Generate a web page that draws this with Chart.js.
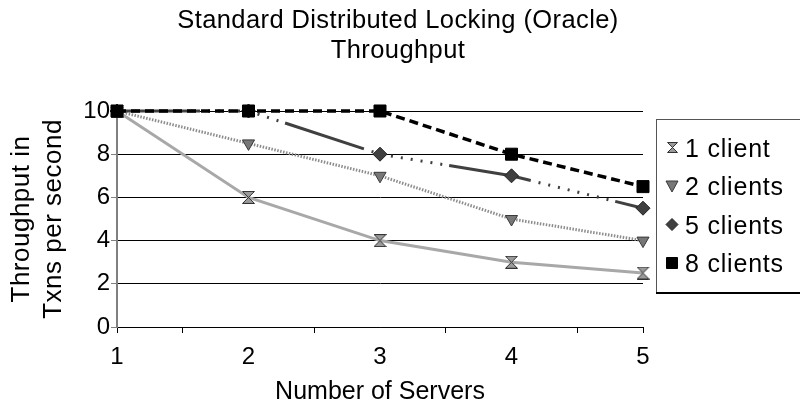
<!DOCTYPE html>
<html>
<head>
<meta charset="utf-8">
<script src="https://cdn.jsdelivr.net/npm/chart.js@4.4.1/dist/chart.umd.min.js"></script>
<style>
  html, body { margin: 0; padding: 0; background: #fff; }
  canvas { display: block; }
</style>
</head>
<body>
<canvas id="c" width="800" height="414"></canvas>
<script>
// Throughput (transactions per second) by number of servers
const servers = [1, 2, 3, 4, 5];
const oneClient = [10, 6, 4, 3, 2.5];
const twoClients = [10, 8.5, 7, 5, 4];
const fiveClients = [10, 10, 8, 7, 5.5];
const eightClients = [10, 10, 10, 8, 6.5];
const seriesNames = ['1 client', '2 clients', '5 clients', '8 clients'];
const yTicks = [0, 2, 4, 6, 8, 10];
const chartTitle = ['Standard Distributed Locking (Oracle)', 'Throughput'];
const xTitle = 'Number of Servers';
const yTitle = ['Throughput in', 'Txns per second'];

const FONT = "'Liberation Sans', Arial, sans-serif";

// hourglass marker (two triangles meeting at the centre)
function hourglass(size, fill, stroke) {
  const c = document.createElement('canvas');
  c.width = size; c.height = size;
  const g = c.getContext('2d');
  const a = 0.5, b = size - 0.5;
  g.beginPath();
  g.moveTo(a, a); g.lineTo(b, a); g.lineTo(a, b); g.lineTo(b, b); g.closePath();
  g.fillStyle = fill; g.fill();
  g.lineWidth = 1; g.strokeStyle = stroke; g.stroke();
  return c;
}
const hourglassMark = hourglass(13, '#9a9a9a', '#333');
const hourglassSmall = hourglass(11, '#9a9a9a', '#333');

const toPoints = vals => servers.map((x, i) => ({ x, y: vals[i] }));

const datasets = [
  {
    label: seriesNames[0], data: toPoints(oneClient), order: 3,
    borderColor: '#a8a8a8', borderWidth: 3,
    pointStyle: hourglassMark, pointRadius: 7
  },
  {
    label: seriesNames[1], data: toPoints(twoClients), order: 2,
    borderColor: '#8c8c8c', borderWidth: 3, borderDash: [1.5, 1.5],
    pointStyle: 'triangle', pointRotation: 180, pointRadius: 7,
    pointBackgroundColor: '#777', pointBorderColor: '#3a3a3a', pointBorderWidth: 1
  },
  {
    label: seriesNames[2], data: toPoints(fiveClients), order: 1,
    borderColor: '#404040', borderWidth: 3,
    borderDash: [83, 8, 2, 8, 2, 8, 2, 8, 2, 8, 2, 8, 2, 8, 2, 8, 2, 7],
    pointStyle: 'rectRot', pointRadius: 7,
    pointBackgroundColor: '#404040', pointBorderColor: '#222', pointBorderWidth: 1
  },
  {
    label: seriesNames[3], data: toPoints(eightClients), order: 0,
    borderColor: '#000', borderWidth: 3.5, borderDash: [9, 5],
    pointStyle: 'rect', pointRadius: 8.5,
    pointBackgroundColor: '#000', pointBorderColor: '#000', pointBorderWidth: 1
  }
];
datasets.forEach(d => { d.clip = false; d.fill = false; d.tension = 0; });

function setSpacing(ctx, px) {
  if ('letterSpacing' in ctx) ctx.letterSpacing = px + 'px';
}

function drawLegendMarker(ctx, ds, x, y) {
  ctx.save();
  ctx.fillStyle = ds.pointBackgroundColor || '#000';
  ctx.strokeStyle = ds.pointBorderColor || '#000';
  ctx.lineWidth = 1;
  ctx.beginPath();
  if (ds.pointStyle === 'triangle') {
    ctx.moveTo(x - 6, y - 5); ctx.lineTo(x + 6, y - 5); ctx.lineTo(x, y + 6);
  } else if (ds.pointStyle === 'rectRot') {
    ctx.moveTo(x, y - 6); ctx.lineTo(x + 6, y); ctx.lineTo(x, y + 6); ctx.lineTo(x - 6, y);
  } else if (ds.pointStyle === 'rect') {
    ctx.rect(x - 5.5, y - 5.5, 11, 11);
  } else {
    ctx.drawImage(hourglassSmall, Math.round(x - 5.5), Math.round(y - 5.5));
    ctx.restore();
    return;
  }
  ctx.closePath();
  ctx.fill();
  ctx.stroke();
  ctx.restore();
}

// chart title, y-axis title and the boxed legend
const annotations = {
  id: 'annotations',
  afterDraw(chart) {
    const ctx = chart.ctx;
    const area = chart.chartArea;
    ctx.save();
    ctx.fillStyle = '#000';
    ctx.textBaseline = 'alphabetic';

    // chart title
    ctx.font = '25.5px ' + FONT;
    setSpacing(ctx, 0.4);
    ctx.textAlign = 'center';
    ctx.fillText(chartTitle[0], 398, 28);
    ctx.fillText(chartTitle[1], 398, 58);

    // y-axis title, two rotated lines
    ctx.font = '26px ' + FONT;
    setSpacing(ctx, 0.5);
    const yMid = (area.top + area.bottom) / 2;
    [28.5, 60.5].forEach((bx, i) => {
      ctx.save();
      ctx.translate(bx, yMid);
      ctx.rotate(-Math.PI / 2);
      ctx.fillText(yTitle[i], 0, 0);
      ctx.restore();
    });

    // legend box
    const left = area.right + 13;
    const top = 119, bottom = 292;
    ctx.strokeStyle = '#555';
    ctx.lineWidth = 1;
    ctx.strokeRect(left + 0.5, top + 0.5, 800, bottom - top);
    ctx.fillRect(left, bottom, 800, 2);
    ctx.font = '25px ' + FONT;
    setSpacing(ctx, 0.8);
    ctx.textAlign = 'left';
    chart.data.datasets.forEach((ds, i) => {
      const cy = 147.5 + i * 38.5;
      drawLegendMarker(ctx, ds, left + 16, cy);
      ctx.fillStyle = '#000';
      ctx.fillText(ds.label, left + 29, cy + 9);
    });
    ctx.restore();
  }
};

new Chart(document.getElementById('c'), {
  type: 'line',
  data: { datasets },
  plugins: [annotations],
  options: {
    responsive: false,
    animation: false,
    devicePixelRatio: 1,
    layout: { padding: { left: 0, right: 0, top: 111, bottom: 0 } },
    plugins: {
      legend: { display: false },
      tooltip: { enabled: false },
      title: { display: false }
    },
    scales: {
      x: {
        type: 'linear', min: 1, max: 5,
        afterFit(s) { s.height = 87; },
        ticks: {
          stepSize: 0.5, autoSkip: false, maxRotation: 0, minRotation: 0,
          color: '#000', padding: 9.5,
          font: { family: FONT, size: 24 },
          callback: v => (Number.isInteger(v) ? String(v) : '')
        },
        grid: {
          drawOnChartArea: false, tickLength: 6, tickWidth: 1,
          tickColor: c => {
            const v = c.tick ? c.tick.value : 0;
            return (!Number.isInteger(v) || v === 1 || v === 5) ? '#000' : 'rgba(0,0,0,0)';
          }
        },
        border: { color: '#000', width: 1 },
        title: {
          display: true, text: xTitle, color: '#000',
          font: { family: FONT, size: 25, lineHeight: 1.2 },
          padding: { top: 0, bottom: 7 }
        }
      },
      y: {
        min: 0, max: 10,
        afterFit(s) { s.width = 117; },
        afterBuildTicks(s) { s.ticks = yTicks.map(v => ({ value: v })); },
        ticks: { color: '#000', padding: 1, font: { family: FONT, size: 24 } },
        grid: { color: '#000', lineWidth: 1, tickLength: 6, tickColor: '#808080' },
        border: { color: '#808080', width: 2 }
      },
      pad: {
        type: 'linear', position: 'right', display: true,
        afterFit(s) { s.width = 157; },
        grid: { display: false },
        border: { display: false },
        ticks: { display: false }
      }
    }
  }
});
</script>
</body>
</html>
